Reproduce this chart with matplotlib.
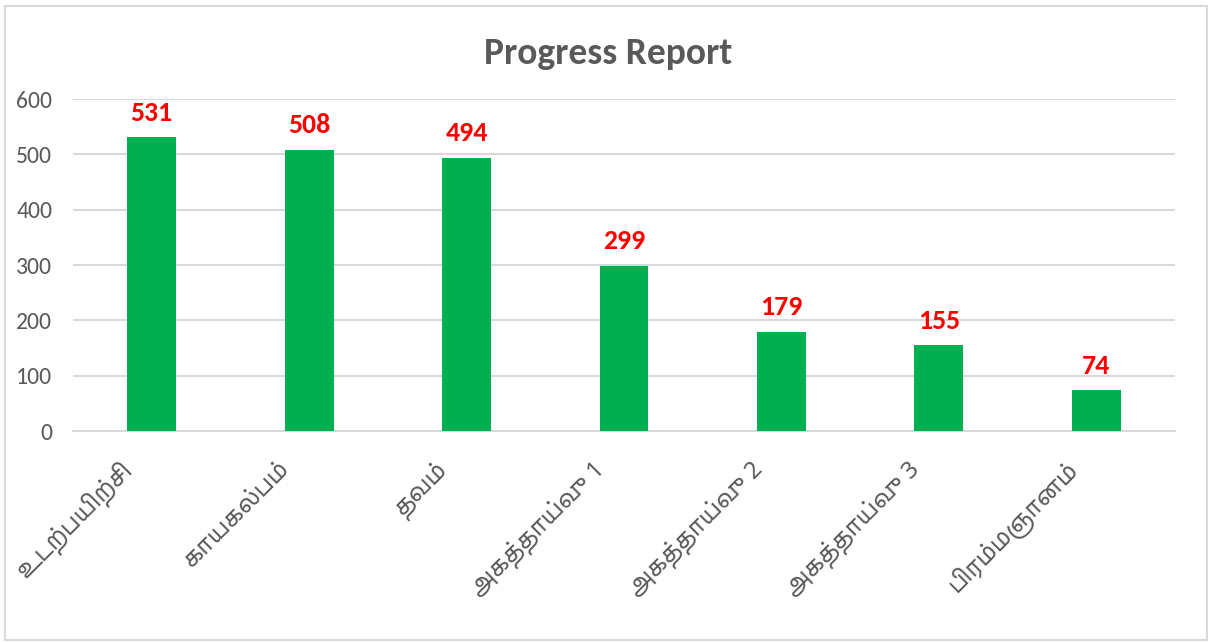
import matplotlib.pyplot as plt
from matplotlib.patches import Rectangle
from matplotlib.transforms import ScaledTranslation

plt.rcParams['font.family'] = ['Carlito', 'Noto Sans Tamil', 'DejaVu Sans']

categories = ['உடற்பயிற்சி', 'காயகல்பம்', 'தவம்', 'அகத்தாய்வு 1',
              'அகத்தாய்வு 2', 'அகத்தாய்வு 3', 'பிரம்மஞானம்']
values = [531, 508, 494, 299, 179, 155, 74]
yticks = [0, 100, 200, 300, 400, 500, 600]

fig = plt.figure(figsize=(12.15, 6.42), dpi=100)
ax = fig.add_axes([73 / 1215, 1 - 431 / 642, 1102 / 1215, 332 / 642])

x = list(range(len(categories)))
ax.bar(x, values, width=0.31, color='#00B050', zorder=3)

for xi, v in zip(x, values):
    ax.annotate(str(v), (xi, v), xytext=(0, 9), textcoords='offset points',
                ha='center', va='bottom', color='#FF0000',
                fontsize=20, fontweight='bold')

ax.set_xlim(-0.5, len(categories) - 0.5)
ax.set_ylim(0, 600)
ax.set_yticks(yticks)
ax.yaxis.grid(True, color='#D9D9D9', linewidth=1.5, zorder=0)
ax.set_axisbelow(True)
for s in ['top', 'right', 'left']:
    ax.spines[s].set_visible(False)
ax.spines['bottom'].set_color('#D9D9D9')
ax.spines['bottom'].set_linewidth(1.5)
ax.tick_params(axis='y', length=0, labelsize=17, labelcolor='#595959', pad=15)
ax.tick_params(axis='x', length=0, labelsize=17, labelcolor='#595959', pad=8)
ax.set_xticks(x)
ax.set_xticklabels(categories, rotation=45, ha='right', rotation_mode='anchor',
                   family=['Noto Sans Tamil', 'Carlito'])
# excel pushes the rotated labels a bit left/down of the tick
shift = ScaledTranslation(-0.32, -0.14, fig.dpi_scale_trans)
for lbl in ax.get_xticklabels():
    lbl.set_transform(lbl.get_transform() + shift)

fig.text(608 / 1215, 1 - 53 / 642, 'Progress Report', ha='center', va='center',
         fontsize=27, fontweight='bold', color='#595959')

fig.patches.append(Rectangle((5 / 1215, 2 / 642), 1202 / 1215, 634 / 642,
                             transform=fig.transFigure, fill=False,
                             edgecolor='#D9D9D9', linewidth=1.5))

fig.savefig('out.png', dpi=100, facecolor='white')
